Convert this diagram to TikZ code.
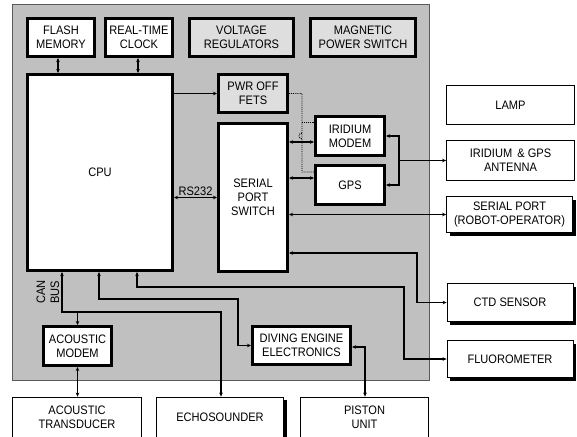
\documentclass[tikz,border=0pt]{standalone}
\usepackage{fontspec}
\setmainfont[FakeStretch=0.9]{Liberation Sans}
\usetikzlibrary{arrows.meta,shadows}
\definecolor{bggray}{RGB}{192,192,192}
\definecolor{lightfill}{RGB}{222,222,222}
\definecolor{edgegray}{RGB}{90,90,90}
\begin{document}
\begin{tikzpicture}[x=1pt,y=-1pt,
  every node/.style={font=\fontsize{12.3}{14}\selectfont, align=center, inner sep=0pt},
  thickbox/.style={draw=black, line width=2.6pt, fill=white},
  graybox/.style={thickbox, fill=lightfill},
  thinbox/.style={draw=black, line width=0.8pt, fill=white},
  shadowbox/.style={thinbox, general shadow={fill=black, shadow xshift=3pt, shadow yshift=-3pt}},
  conn/.style={line width=1.1pt, -{Stealth[length=4pt,width=3.6pt]}},
  dconn/.style={line width=1.1pt, {Stealth[length=4pt,width=3.6pt]}-{Stealth[length=4pt,width=3.6pt]}},
  dotconn/.style={line width=0.9pt, densely dotted}
]
\useasboundingbox (0,0) rectangle (577,436);
\fill[white] (0,0) rectangle (577,436);
% background panel
\draw[fill=bggray, draw=edgegray, line width=0.8pt] (12,4) rectangle (429,380);

% top row
\node[thickbox, minimum width=67.5pt, minimum height=38.5pt] (flash) at (61,37.5) {FLASH\\MEMORY};
\node[thickbox, minimum width=67.5pt, minimum height=38.5pt] (rtc) at (139,37.5) {REAL-TIME\\CLOCK};
\node[graybox, minimum width=104.5pt, minimum height=38.5pt] (volt) at (241.5,37.5) {VOLTAGE\\REGULATORS};
\node[graybox, minimum width=105.5pt, minimum height=38.5pt] (mag) at (363,37.5) {MAGNETIC\\POWER SWITCH};

% main blocks
\node[thickbox, minimum width=145.5pt, minimum height=196.5pt] (cpu) at (100,172.5) {CPU};
\node[graybox, minimum width=69.5pt, minimum height=38.5pt] (pwr) at (253,93.5) {PWR OFF\\FETS};
\node[thickbox, minimum width=69.5pt, minimum height=148.5pt] (sps) at (253,197.5) {SERIAL\\PORT\\SWITCH};
\node[thickbox, minimum width=69.5pt, minimum height=39.5pt] (irid) at (350,136) {IRIDIUM\\MODEM};
\node[thickbox, minimum width=69.5pt, minimum height=39.5pt] (gps) at (350,185) {GPS};
\node[thickbox, minimum width=68.5pt, minimum height=39.5pt] (am) at (77.5,346) {ACOUSTIC\\MODEM};
\node[thickbox, minimum width=98.5pt, minimum height=38.5pt] (dee) at (301.5,345.5) {DIVING ENGINE\\ELECTRONICS};

% external blocks right
\node[thinbox, minimum width=128pt, minimum height=39pt] (lamp) at (510.5,105) {LAMP};
\node[thinbox, minimum width=128pt, minimum height=40pt] (ant) at (510.5,160.5) {IRIDIUM \,\& GPS\\ANTENNA};
\node[shadowbox, minimum width=126pt, minimum height=36pt] (ser) at (509.5,214.5) {SERIAL PORT\\(ROBOT-OPERATOR)};
\node[shadowbox, minimum width=126pt, minimum height=38pt] (ctd) at (510,302.5) {CTD SENSOR};
\node[shadowbox, minimum width=126pt, minimum height=37pt] (fluo) at (510,359) {FLUOROMETER};

% external blocks bottom
\node[thinbox, minimum width=129pt, minimum height=40pt] (at) at (77,417) {ACOUSTIC\\TRANSDUCER};
\node[shadowbox, minimum width=127pt, minimum height=40pt] (echo) at (220,417) {ECHOSOUNDER};
\node[thinbox, minimum width=128pt, minimum height=40pt] (piston) at (364.5,417) {PISTON\\UNIT};

% connectors top
\draw[dconn] ([xshift=-3pt]flash.south) -- ([xshift=-3pt]flash.south |- cpu.north);
\draw[dconn] ([xshift=-1pt]rtc.south) -- ([xshift=-1pt]rtc.south |- cpu.north);
\draw[conn] (cpu.east |- pwr.west) -- (pwr.west);
\draw[dconn] (cpu.east |- sps.west) -- (sps.west) node[midway, above=1.5pt] (rs) {RS232};

% dotted power lines
\coordinate (d1) at (302,93.5);
\coordinate (d2) at (302,122);
\coordinate (d3) at (302,172);
\draw[dotconn] (pwr.east |- d1) -- (d1) -- (302,139) arc[start angle=90, end angle=270, radius=3] -- (d3) -- (gps.west |- d3);
\draw[dotconn] (d2) -- (irid.west |- d2);

% serial links
\coordinate (ia) at ([yshift=-6pt]irid.west);
\draw[dconn] (sps.east |- ia) -- (ia);
\coordinate (ga) at ([yshift=7pt]gps.west);
\draw[dconn] (sps.east |- ga) -- (ga);
\coordinate (aj) at (399,160.5);
\draw[dconn] (irid.east) -- (irid.east -| aj) -- (gps.east -| aj) -- (gps.east);
\draw[conn] (aj) -- (ant.west);
\draw[dconn] (sps.east |- ser.west) -- (ser.west);
\coordinate (c1) at (417,253);
\draw[dconn] (sps.east |- c1) -- (c1) -- (c1 |- ctd.west) -- (ctd.west);

% bottom buses
\coordinate (f1) at (137,287);
\coordinate (f2) at (404,287);
\draw[dconn] (f1 |- cpu.south) -- (f1) -- (f2) -- (f2 |- fluo.west) -- (fluo.west);
\coordinate (e1) at (99,299);
\coordinate (e2) at (238,299);
\draw[dconn] (e1 |- cpu.south) -- (e1) -- (e2) -- (e2 |- dee.west) -- (dee.west);
\coordinate (b1) at (62,312);
\coordinate (b2) at (221,312);
\coordinate (b3) at (77.5,312);
\draw[dconn] (b1 |- cpu.south) -- (b1) -- (b2) -- (b2 |- echo.north);
\draw[conn] (b3) -- (am.north);
\node[rotate=90] (can) at (48,292) {CAN\\BUS};
\draw[dconn] (am.south) -- (am.south |- at.north);
\coordinate (p1) at (365,347);
\draw[dconn] (dee.east |- p1) -- (p1) -- (p1 |- piston.north);
\end{tikzpicture}
\end{document}
